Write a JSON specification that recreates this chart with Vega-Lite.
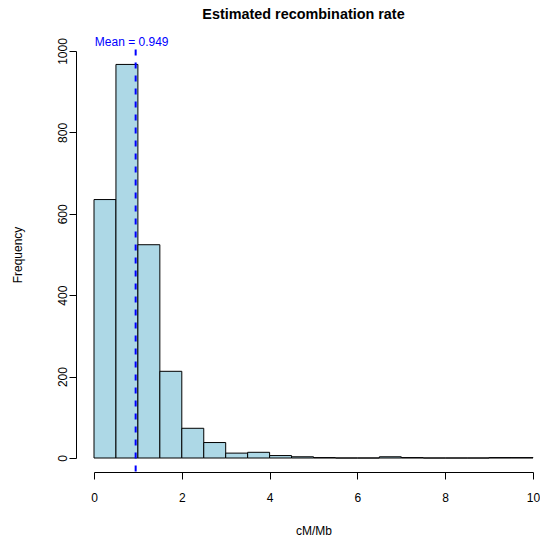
{
  "$schema": "https://vega.github.io/schema/vega-lite/v6.json",
  "width": 439,
  "height": 407,
  "autosize": {"type": "none"},
  "padding": {"left": 94, "top": 51, "right": 7, "bottom": 83},
  "background": "white",
  "title": {
    "text": "Estimated recombination rate",
    "font": "Liberation Sans",
    "fontSize": 14.4,
    "fontWeight": "bold",
    "color": "black",
    "anchor": "middle",
    "frame": "group",
    "dx": -10,
    "offset": 14
  },
  "config": {
    "view": {"stroke": null},
    "axis": {
      "grid": false,
      "domainColor": "black",
      "tickColor": "black",
      "tickSize": 7,
      "labelFont": "Liberation Sans",
      "labelFontSize": 12,
      "labelColor": "black",
      "titleFont": "Liberation Sans",
      "titleFontSize": 12,
      "titleFontWeight": "normal",
      "titleColor": "black"
    }
  },
  "layer": [
    {
      "data": {
        "values": [
          {"start": 0.0, "end": 0.5, "count": 635},
          {"start": 0.5, "end": 1.0, "count": 967},
          {"start": 1.0, "end": 1.5, "count": 524},
          {"start": 1.5, "end": 2.0, "count": 213},
          {"start": 2.0, "end": 2.5, "count": 73},
          {"start": 2.5, "end": 3.0, "count": 38},
          {"start": 3.0, "end": 3.5, "count": 12},
          {"start": 3.5, "end": 4.0, "count": 14},
          {"start": 4.0, "end": 4.5, "count": 6},
          {"start": 4.5, "end": 5.0, "count": 3},
          {"start": 5.0, "end": 5.5, "count": 1},
          {"start": 5.5, "end": 6.0, "count": 0},
          {"start": 6.0, "end": 6.5, "count": 0},
          {"start": 6.5, "end": 7.0, "count": 3},
          {"start": 7.0, "end": 7.5, "count": 1},
          {"start": 7.5, "end": 8.0, "count": 0},
          {"start": 8.0, "end": 8.5, "count": 0},
          {"start": 8.5, "end": 9.0, "count": 0},
          {"start": 9.0, "end": 9.5, "count": 1},
          {"start": 9.5, "end": 10.0, "count": 1}
        ]
      },
      "mark": {"type": "rect", "fill": "#ADD8E6", "stroke": "black", "strokeWidth": 1},
      "encoding": {
        "x": {
          "field": "start", "type": "quantitative",
          "scale": {"domain": [0, 10], "nice": false, "zero": false},
          "axis": {
            "title": "cM/Mb",
            "values": [0, 2, 4, 6, 8, 10],
            "format": "d",
            "offset": 14,
            "labelPadding": 13,
            "titlePadding": 22,
            "labelFlush": false
          }
        },
        "x2": {"field": "end"},
        "y": {
          "field": "count", "type": "quantitative",
          "scale": {"domain": [0, 1000], "nice": false},
          "axis": {
            "title": "Frequency",
            "values": [0, 200, 400, 600, 800, 1000],
            "format": "d",
            "offset": 18,
            "labelAngle": -90,
            "labelAlign": "center",
            "labelBaseline": "alphabetic",
            "labelPadding": 3,
            "titlePadding": 32,
            "labelFlush": false
          }
        },
        "y2": {"datum": 0}
      }
    },
    {
      "data": {"values": [{"mean": 0.949, "bottom": -38.6, "top": 1003.6}]},
      "mark": {"type": "rule", "color": "#0000FF", "strokeWidth": 2, "strokeDash": [6, 7]},
      "encoding": {
        "x": {"field": "mean", "type": "quantitative"},
        "y": {"field": "top", "type": "quantitative"},
        "y2": {"field": "bottom"}
      }
    },
    {
      "data": {"values": [{"mean": 0.949, "ypos": 1022, "label": "Mean = 0.949"}]},
      "mark": {"type": "text", "color": "#0000FF", "font": "Liberation Sans", "fontSize": 12, "align": "center", "baseline": "middle", "dx": -4},
      "encoding": {
        "x": {"field": "mean", "type": "quantitative"},
        "y": {"field": "ypos", "type": "quantitative"},
        "text": {"field": "label"}
      }
    }
  ]
}
